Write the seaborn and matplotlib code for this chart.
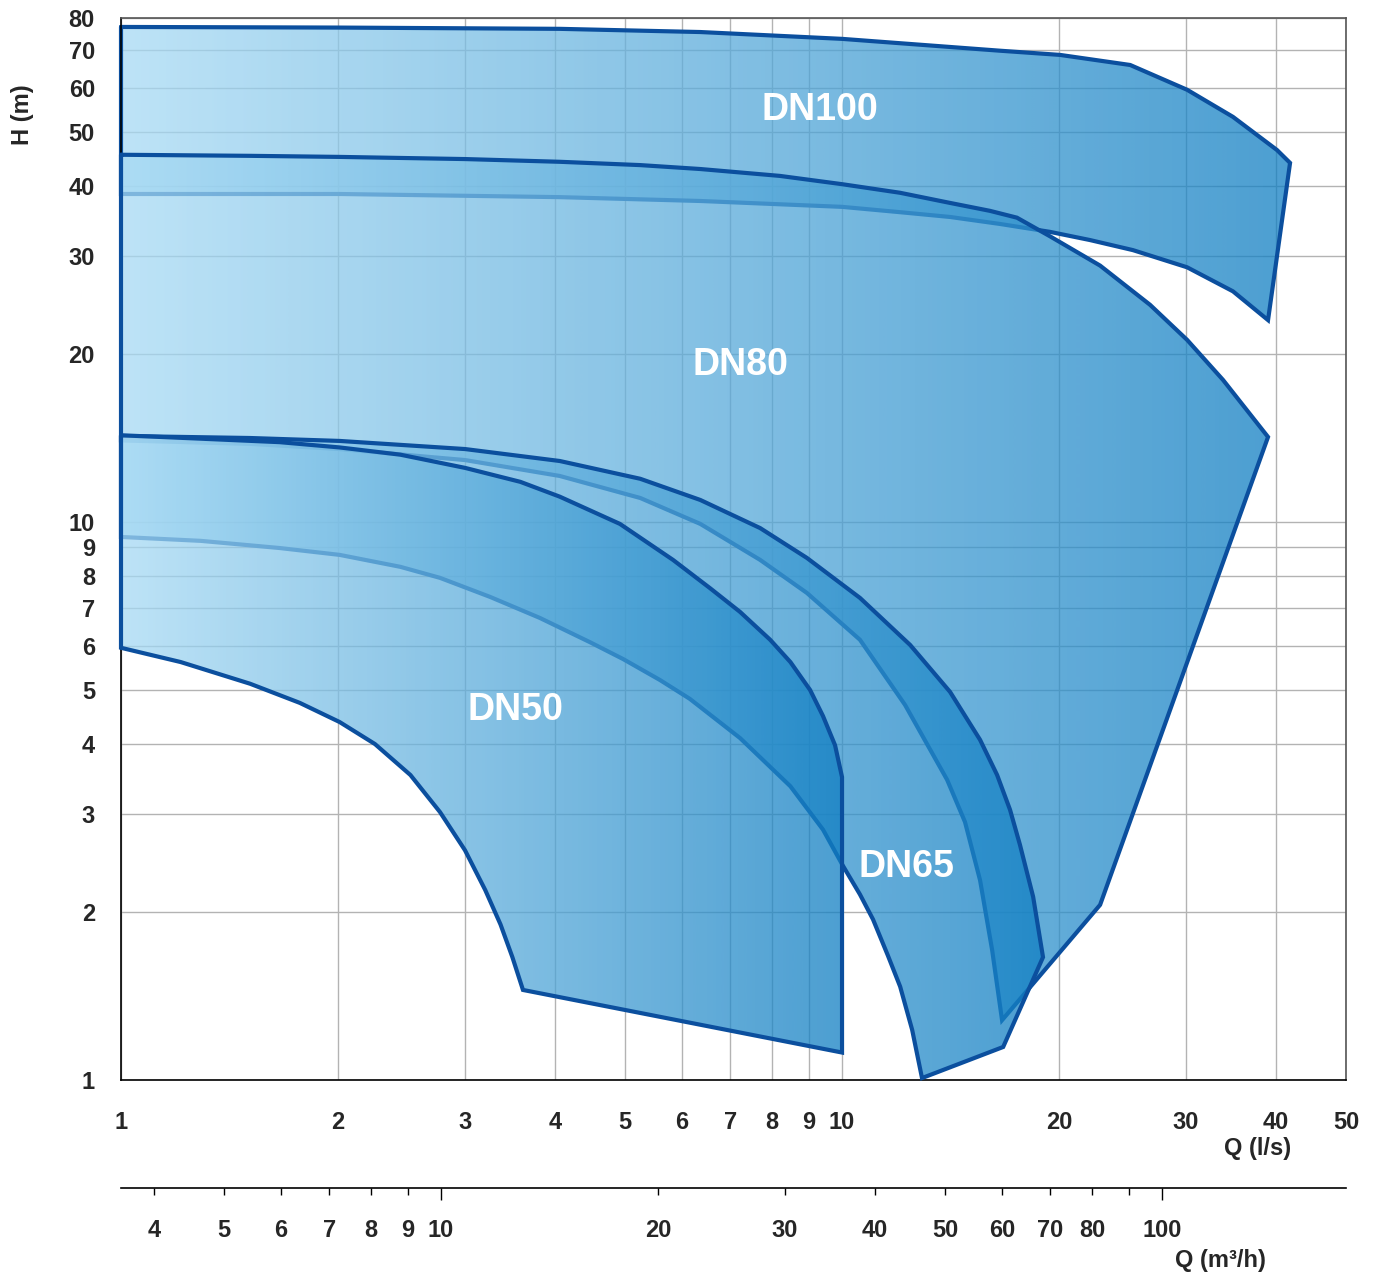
import numpy as np
import pandas as pd
import seaborn as sns
import matplotlib.pyplot as plt
from matplotlib.colors import LinearSegmentedColormap
from matplotlib.patches import Polygon
from matplotlib.ticker import FixedLocator, FixedFormatter

# --- data: Q in l/s, H in m ---
# each area: upper curve left->right, then the lower curve right->left

# DN100
dn100_q = [1, 2.01, 4.06, 6.36, 10, 16.56, 20.06, 25.1, 30.1, 34.85, 40.11, 41.82,
           38.98, 34.85, 30.1, 25.32, 22.08, 19.43, 16.56, 14.12, 12.04, 10, 6.36,
           4.06, 2.01, 1]
dn100_h = [77.1, 76.9, 76.5, 75.5, 73.4, 69.9, 68.7, 65.9, 59.5, 53.2, 46.4, 44.0,
           23.0, 25.9, 28.6, 30.7, 32.0, 33.1, 34.2, 35.2, 35.9, 36.7, 37.6,
           38.2, 38.7, 38.7]

# DN80
dn80_q = [1, 1.51, 2.01, 3.0, 4.06, 5.25, 6.36, 8.20, 10, 12.03, 14.12, 16.04, 17.48,
          19.43, 22.8, 26.74, 30.1, 33.76, 38.98,
          22.8, 16.67,
          16.15, 15.54, 14.81, 13.99, 12.23, 10.59, 8.94, 7.70, 6.36, 5.25, 4.06,
          3.0, 2.01, 1.51, 1]
dn80_h = [45.5, 45.3, 45.1, 44.7, 44.2, 43.6, 42.9, 41.7, 40.3, 38.9, 37.3, 36.1, 35.1,
          32.5, 28.8, 24.5, 21.2, 17.97, 14.2,
          2.06, 1.28,
          1.71, 2.28, 2.90, 3.45, 4.70, 6.15, 7.46, 8.55, 9.92, 11.04, 12.09,
          12.91, 13.51, 13.80, 14.0]

# DN65
dn65_q = [1, 1.51, 2.01, 3.0, 4.06, 5.25, 6.36, 7.70, 8.94, 10.59, 12.43, 14.12,
          15.54, 16.41, 17.10, 17.65, 18.41, 19.0,
          16.73, 12.91,
          12.51, 12.04, 11.58, 11.04, 10.59, 10.03, 9.41, 8.48, 7.22, 6.15, 5.59,
          4.97, 4.47, 3.81, 3.25, 2.77, 2.44, 2.01, 1.66, 1.29, 1]
dn65_h = [14.26, 14.14, 13.97, 13.51, 12.86, 11.95, 10.95, 9.75, 8.62, 7.31, 6.02, 4.96,
          4.07, 3.52, 3.05, 2.64, 2.13, 1.66,
          1.146, 1.008,
          1.23, 1.47, 1.67, 1.94, 2.15, 2.42, 2.81, 3.36, 4.10, 4.82, 5.21,
          5.68, 6.09, 6.73, 7.34, 7.94, 8.31, 8.73, 8.98, 9.25, 9.40]

# DN50
dn50_q = [1, 1.29, 1.66, 2.01, 2.44, 3.0, 3.58, 4.06, 4.92, 5.83, 6.56, 7.22,
          7.95, 8.48, 9.03, 9.41, 9.78, 10,
          10, 3.61,
          3.49, 3.36, 3.20, 3.0, 2.77, 2.52, 2.25, 2.01, 1.77, 1.51, 1.21, 1]
dn50_h = [14.3, 14.1, 13.9, 13.6, 13.2, 12.5, 11.8, 11.1, 9.92, 8.55, 7.61, 6.90,
          6.15, 5.61, 5.0, 4.49, 3.98, 3.49,
          1.12, 1.45,
          1.66, 1.90, 2.19, 2.58, 3.02, 3.52, 4.00, 4.38, 4.74, 5.13, 5.61, 5.95]

areas = ["DN100", "DN80", "DN65", "DN50"]
area_q = [dn100_q, dn80_q, dn65_q, dn50_q]
area_h = [dn100_h, dn80_h, dn65_h, dn50_h]

q_ticks = [1, 2, 3, 4, 5, 6, 7, 8, 9, 10, 20, 30, 40, 50]
h_ticks = [1, 2, 3, 4, 5, 6, 7, 8, 9, 10, 20, 30, 40, 50, 60, 70, 80]
m3h_ticks = [4, 5, 6, 7, 8, 9, 10, 20, 30, 40, 50, 60, 70, 80, 90, 100]
m3h_labels = ["4", "5", "6", "7", "8", "9", "10", "20", "30", "40", "50",
              "60", "70", "80", "", "100"]

sns.set_theme(style="white")
plt.rcParams["font.family"] = ["Liberation Sans", "DejaVu Sans"]
plt.rcParams["font.weight"] = "bold"

edge = "#0b4f9e"
cmap = LinearSegmentedColormap.from_list("pump", ["#a7daf4", "#117fc3"])

fig = plt.figure(figsize=(13.78, 12.74), dpi=100)
ax = fig.add_axes([121 / 1378, 1 - 1080 / 1274, 1225 / 1378, 1062 / 1274])
ax.set_xscale("log")
ax.set_yscale("log")

for i, (name, qs, hs) in enumerate(zip(areas, area_q, area_h)):
    z = 2 + i
    q0, q1 = min(qs), max(qs)
    # gradient that runs evenly across the screen width of the area (log axis)
    cols = np.linspace(q0, q1, 2048)
    grad = ((np.log10(cols) - np.log10(q0)) / (np.log10(q1) - np.log10(q0))).reshape(1, -1)
    im = ax.imshow(grad, cmap=cmap, aspect="auto", alpha=0.75, zorder=z,
                   extent=(q0, q1, min(hs), max(hs)), interpolation="bilinear")
    poly = Polygon(np.column_stack([qs, hs]), closed=True, facecolor="none",
                   edgecolor="none", transform=ax.transData)
    ax.add_patch(poly)
    im.set_clip_path(poly)
    df = pd.DataFrame({"Q": list(qs) + [qs[0]], "H": list(hs) + [hs[0]]})
    sns.lineplot(data=df, x="Q", y="H", sort=False, estimator=None, ax=ax,
                 color=edge, lw=3.0, zorder=z + 0.5, solid_joinstyle="miter",
                 clip_on=False)

ax.set_xlim(1, 50)
ax.set_ylim(1, 80)

# grid
for q in q_ticks:
    ax.axvline(q, color="#b3b3b3", lw=1.0, zorder=1)
for h in h_ticks:
    ax.axhline(h, color="#b3b3b3", lw=1.0, zorder=1)

# ticks
ax.xaxis.set_major_locator(FixedLocator([1, 10]))
ax.xaxis.set_major_formatter(FixedFormatter(["1", "10"]))
ax.xaxis.set_minor_locator(FixedLocator([t for t in q_ticks if t not in (1, 10)]))
ax.xaxis.set_minor_formatter(FixedFormatter([str(t) for t in q_ticks if t not in (1, 10)]))
ax.yaxis.set_major_locator(FixedLocator(h_ticks))
ax.yaxis.set_major_formatter(FixedFormatter([str(t) for t in h_ticks]))
ax.yaxis.set_minor_locator(FixedLocator([]))
ax.tick_params(axis="x", which="major", direction="out", length=8.6, width=1,
               pad=13.5, labelsize=17, color="black")
ax.tick_params(axis="x", which="minor", direction="out", length=5, width=1,
               pad=17, labelsize=17, color="black")
ax.tick_params(axis="y", which="major", direction="out", length=5.8, width=1,
               pad=13, labelsize=17, color="black")
ax.set_xlabel("")
ax.set_ylabel("")

for s in ["top", "right"]:
    ax.spines[s].set_color("#555555")
    ax.spines[s].set_linewidth(1.2)
for s in ["bottom", "left"]:
    ax.spines[s].set_color("black")
    ax.spines[s].set_linewidth(1.2)

# second Q axis in m3/h
sec = ax.secondary_xaxis(-108 / 1062, functions=(lambda q: q * 3.6, lambda m: m / 3.6))
sec.xaxis.set_major_locator(FixedLocator([10, 100]))
sec.xaxis.set_major_formatter(FixedFormatter(["10", "100"]))
sec.xaxis.set_minor_locator(FixedLocator([t for t in m3h_ticks if t not in (10, 100)]))
sec.xaxis.set_minor_formatter(FixedFormatter([l for t, l in zip(m3h_ticks, m3h_labels)
                                              if t not in (10, 100)]))
sec.tick_params(axis="x", which="major", direction="out", length=8.6, width=1,
                pad=13.5, labelsize=17, color="black")
sec.tick_params(axis="x", which="minor", direction="out", length=5, width=1,
                pad=17, labelsize=17, color="black")
sec.spines["bottom"].set_color("black")
sec.spines["bottom"].set_linewidth(1.2)

# area labels
ax.text(9.32, 54.7, "DN100", color="white", fontsize=27, fontweight="bold",
        ha="center", va="center", zorder=20)
ax.text(7.22, 19.1, "DN80", color="white", fontsize=27, fontweight="bold",
        ha="center", va="center", zorder=20)
ax.text(3.52, 4.60, "DN50", color="white", fontsize=27, fontweight="bold",
        ha="center", va="center", zorder=20)
ax.text(12.27, 2.41, "DN65", color="white", fontsize=27, fontweight="bold",
        ha="center", va="center", zorder=20)

fig.text(22 / 1378, 1 - 115 / 1274, "H (m)", rotation=90, fontsize=17,
         fontweight="bold", ha="center", va="center")
fig.text(1258 / 1378, 1 - 1148 / 1274, "Q (l/s)", fontsize=17,
         fontweight="bold", ha="center", va="center")
fig.text(1220 / 1378, 1 - 1260 / 1274, "Q (m³/h)", fontsize=17,
         fontweight="bold", ha="center", va="center")

fig.savefig("out.png", dpi=100)
